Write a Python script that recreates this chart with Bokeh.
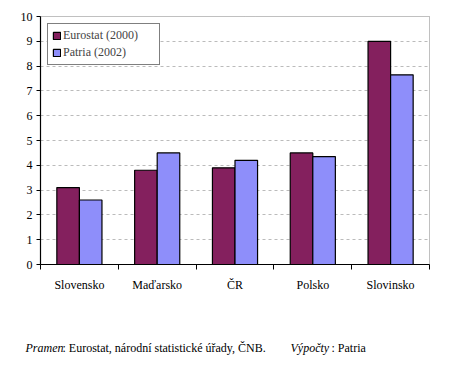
from bokeh.plotting import figure
from bokeh.layouts import column
from bokeh.models import (ColumnDataSource, FixedTicker, Legend, LegendItem, Label, Range1d)
from bokeh.transform import dodge
from bokeh.embed import file_html
from bokeh.resources import INLINE

categories = ["Slovensko", "Maďarsko", "ČR", "Polsko", "Slovinsko"]
eurostat_2000 = [3.1, 3.8, 3.9, 4.5, 9.0]
patria_2002 = [2.6, 4.5, 4.2, 4.35, 7.65]
y_ticks = [0, 1, 2, 3, 4, 5, 6, 7, 8, 9, 10]

FONT = "'Liberation Serif', 'Times New Roman', serif"
xpos = [i + 0.5 for i in range(len(categories))]
src = ColumnDataSource(dict(x=xpos, e=eurostat_2000, p=patria_2002))

p = figure(width=447, height=300, output_backend="svg", toolbar_location=None,
           x_range=Range1d(0, len(categories)), y_range=Range1d(0, 10),
           min_border_left=40, min_border_right=18, min_border_top=16, min_border_bottom=36)
p.background_fill_color = "white"
p.border_fill_color = "white"
p.outline_line_color = "#808080"
p.outline_line_dash = "1 1"

bw = 0.29
r1 = p.vbar(x=dodge("x", -bw / 2, range=p.x_range), top="e", width=bw, source=src,
            fill_color="#84205E", line_color="black", line_width=1.2)
r2 = p.vbar(x=dodge("x", bw / 2, range=p.x_range), top="p", width=bw, source=src,
            fill_color="#8E8EFA", line_color="black", line_width=1.2)

# x axis
xa = p.xaxis[0]
xa.ticker = FixedTicker(ticks=xpos, minor_ticks=list(range(len(categories) + 1)))
xa.major_label_overrides = {x: c for x, c in zip(xpos, categories)}
xa.major_tick_line_color = None
xa.minor_tick_line_color = "black"
xa.minor_tick_in = 0
xa.minor_tick_out = 5
xa.axis_line_color = "black"
xa.axis_line_width = 1.2
xa.major_label_standoff = 7
xa.major_label_text_font = FONT
xa.major_label_text_font_size = "12px"
xa.major_label_text_color = "black"

ya = p.yaxis[0]
ya.ticker = FixedTicker(ticks=y_ticks)
ya.minor_tick_line_color = None
ya.major_tick_in = 0
ya.major_tick_out = 4
ya.major_tick_line_color = "black"
ya.axis_line_color = "black"
ya.axis_line_width = 1.2
ya.major_label_standoff = 4
ya.major_label_text_font = FONT
ya.major_label_text_font_size = "12px"
ya.major_label_text_color = "black"

p.xgrid.grid_line_color = None
p.ygrid.grid_line_color = "#BBBBBB"
p.ygrid.grid_line_dash = "3 3"

legend = Legend(items=[LegendItem(label="Eurostat (2000)", renderers=[r1]),
                       LegendItem(label="Patria (2002)", renderers=[r2])],
                location="top_left")
legend.border_line_color = "black"
legend.border_line_width = 1
legend.label_text_font = FONT
legend.label_text_font_size = "12px"
legend.label_standoff = 2
legend.glyph_width = 9
legend.glyph_height = 9
legend.label_height = 12
legend.label_width = 92
legend.spacing = 2
legend.padding = 4
legend.margin = 7
legend.background_fill_alpha = 1
p.add_layout(legend)

# caption figure, frame not aligned with the chart: covers the full width
cap = figure(frame_width=447, frame_height=66, output_backend="svg", toolbar_location=None,
             x_axis_type=None, y_axis_type=None,
             x_range=Range1d(0, 447), y_range=Range1d(0, 66),
             min_border=0, min_border_left=0, min_border_right=0,
             min_border_top=0, min_border_bottom=0)
if hasattr(cap, "frame_align"):
    cap.frame_align = False
cap.grid.visible = False
cap.outline_line_color = None
cap.background_fill_color = "white"
cap.border_fill_color = "white"

parts = [("Pramen", "italic", 25), (": Eurostat, národní statistické úřady, ČNB.", "normal", 62),
         ("Výpočty", "italic", 290), (": Patria", "normal", 331)]
for txt, style, x in parts:
    cap.add_layout(Label(x=x, y=19, text=txt, text_align="left",
                         text_font=FONT, text_font_style=style, text_font_size="12px",
                         text_baseline="middle", text_color="black"))

open("out.html", "w").write(file_html(column(p, cap, spacing=0), INLINE))
